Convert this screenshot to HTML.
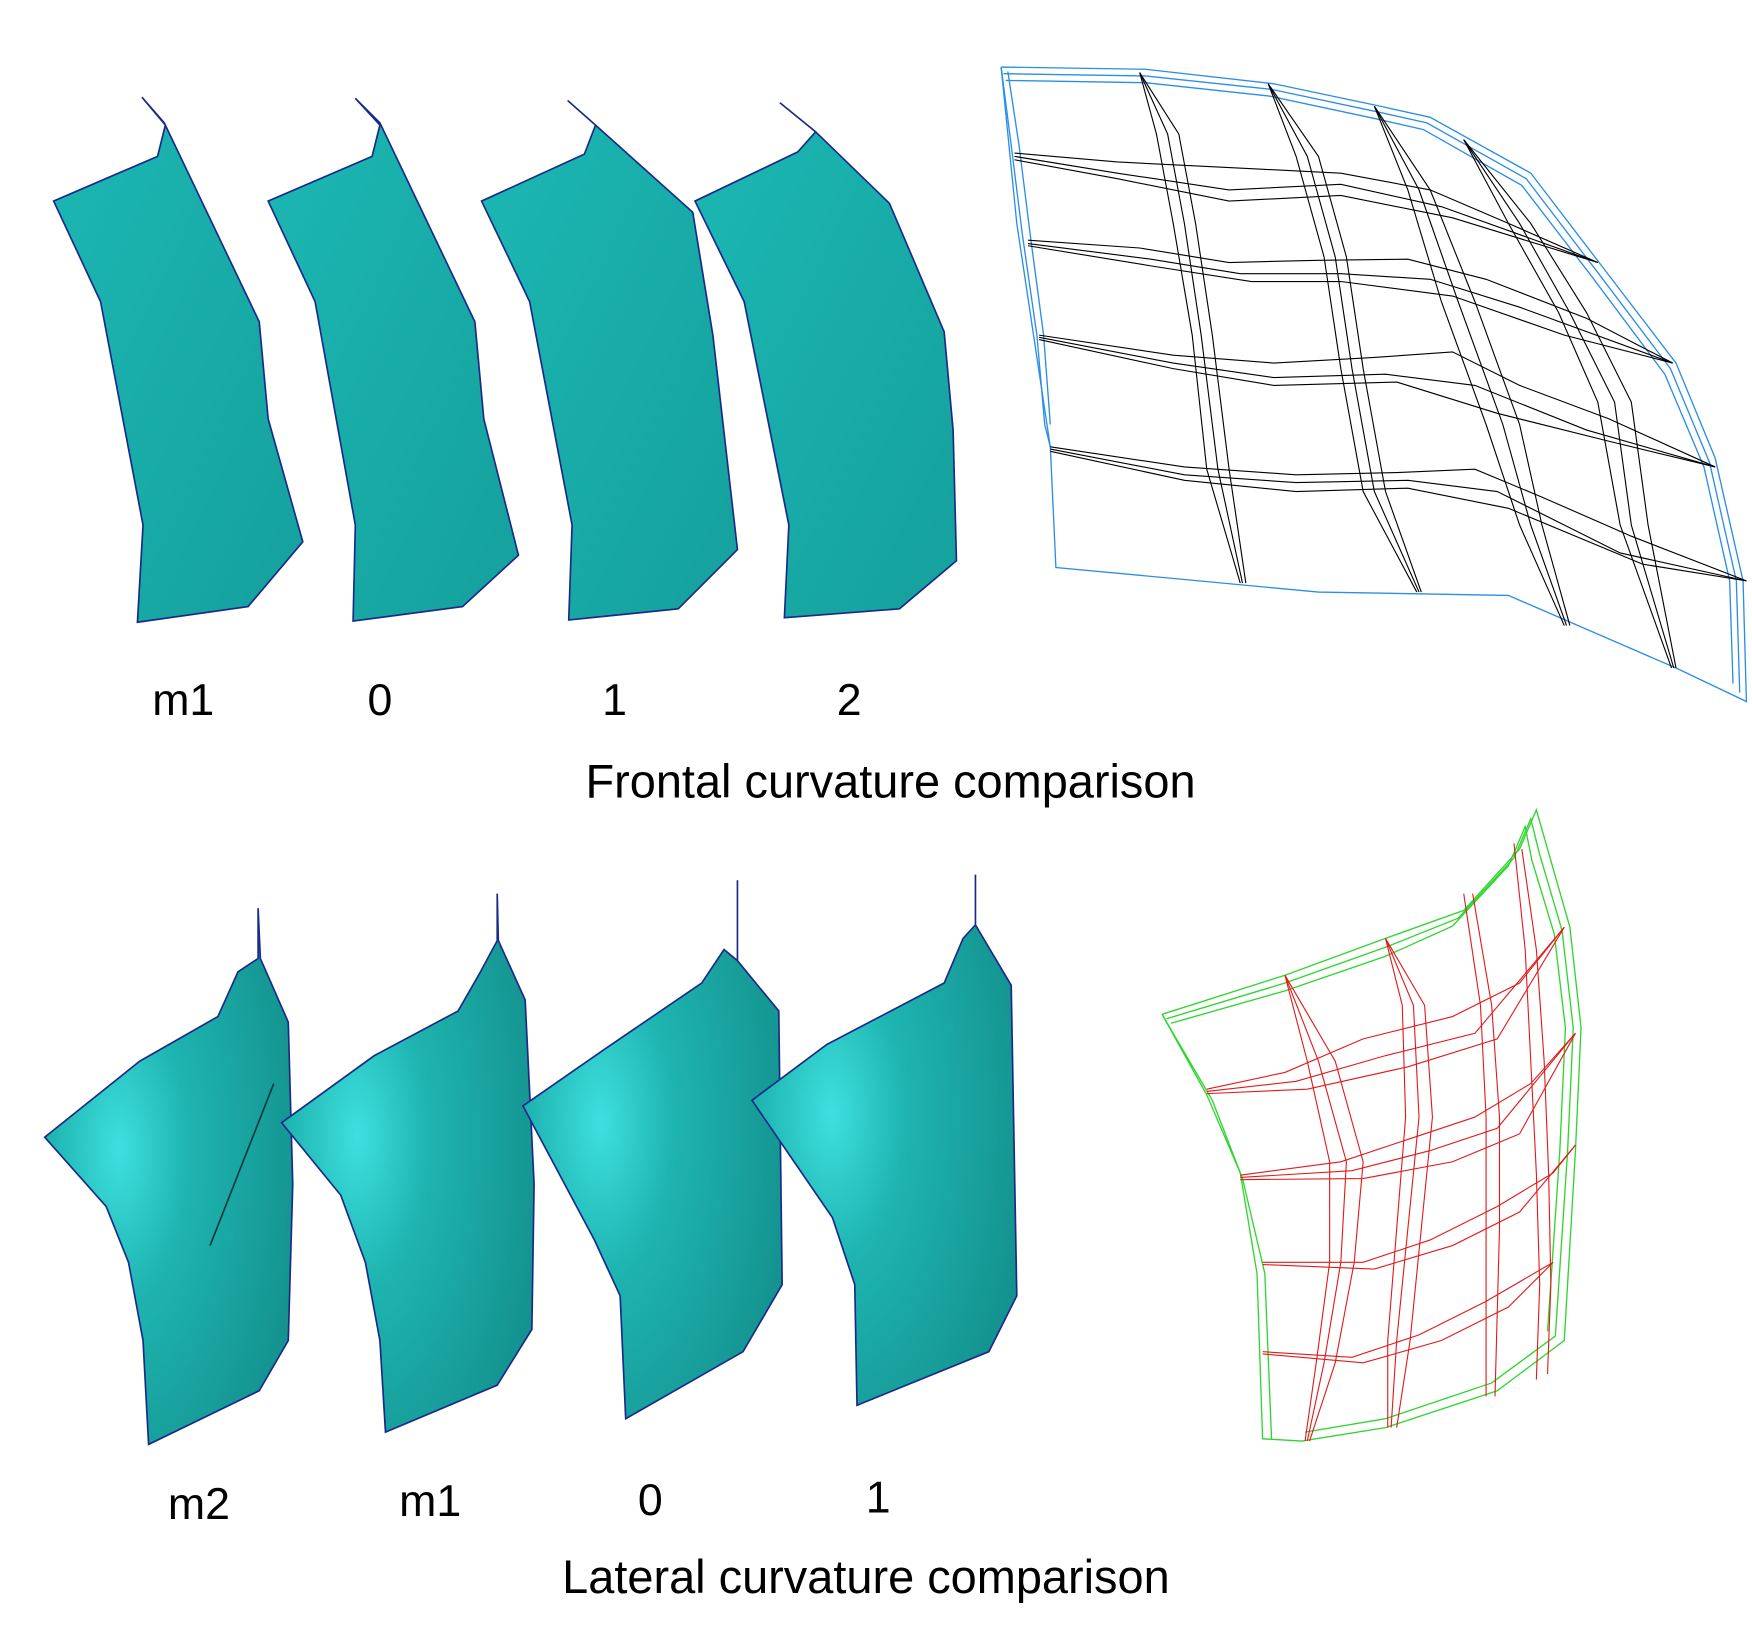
<!DOCTYPE html>
<html><head><meta charset="utf-8"><style>
html,body{margin:0;padding:0;background:#fff;}
svg{display:block;}
text{font-family:"Liberation Sans",sans-serif;fill:#000;}
</style></head><body>
<svg width="1752" height="1641" viewBox="0 0 1568 1469" preserveAspectRatio="none" xmlns="http://www.w3.org/2000/svg">
<defs>
<radialGradient id="g1" cx="0.3" cy="0.45" r="0.8">
<stop offset="0" stop-color="#3ee0e0"/><stop offset="0.35" stop-color="#1eb4b0"/><stop offset="1" stop-color="#138f8c"/>
</radialGradient>
<linearGradient id="g2" x1="0" y1="0" x2="1" y2="1">
<stop offset="0" stop-color="#1cb8b4"/><stop offset="1" stop-color="#15a09c"/>
</linearGradient>
</defs>
<g fill="url(#g2)" stroke="#1a2a8a" stroke-width="1.5">
<polygon points="127,87 147,110 232,288 240,375 271,485 222,543 123,557 128,470 90,270 48,180 141,140 148,112"/>
<polygon points="318,88 340,110 425,288 433,375 464,497 414,543 316,556 318,470 282,270 240,180 333,140 340,112"/>
<polygon points="508,90 533,112 620,190 638,300 660,492 607,545 509,555 512,470 474,270 431,180 523,138 533,112"/>
<polygon points="698,92 730,118 796,182 845,297 853,385 856,502 805,545 702,553 706,470 666,270 622,180 714,136 730,118"/>
</g>
<g fill="url(#g1)" stroke="#1a2a8a" stroke-width="1.5">
<polygon points="231,813 233,858 258,915 262,1060 258,1200 232,1245 133,1293 128,1200 115,1130 95,1080 40,1018 125,950 195,910 213,870 231,858"/>
<polygon points="445,800 446,842 470,895 478,1060 476,1190 445,1240 345,1282 340,1200 327,1130 305,1070 252,1005 335,945 410,905 430,870 445,842"/>
<polygon points="660,788 660,860 697,905 700,1150 665,1210 560,1270 555,1160 532,1110 468,990 540,940 628,880 648,850 660,860"/>
<polygon points="873,783 873,828 905,882 910,1160 885,1210 767,1258 765,1150 745,1090 673,985 740,935 845,880 862,840 873,828"/>
</g>
<line x1="245" y1="970" x2="188" y2="1115" stroke="#0a3a40" stroke-width="1.5"/>
<g fill="none" stroke="#2b8ee6" stroke-width="1.2">
<polyline points="896,60 1025,62 1140,75 1235,95 1280,105 1370,155 1435,240 1500,325 1535,410 1560,520 1563,628 1500,598 1350,533 1180,530 945,508 940,400 910,200 896,60"/>
<polyline points="898,66 1025,68 1138,80 1232,100 1277,110 1366,160 1430,244 1495,330 1530,414 1554,520 1557,620"/>
<polyline points="900,72 1025,74 1136,86 1230,106 1274,116 1362,166 1425,248 1490,335 1525,418 1548,520 1551,612"/>
<polyline points="896,60 905,130 915,210 928,300 935,380 940,400"/>
<polyline points="902,64 912,130 922,210 934,300 940,380"/>
</g>
<g fill="none" stroke="#000" stroke-width="1">
<polyline points="908,137 1000,145 1100,150 1200,155 1280,170 1350,200 1430,235"/>
<polyline points="908,140 1000,155 1100,170 1200,165 1290,185 1360,210 1430,235"/>
<polyline points="908,143 1000,160 1100,180 1200,175 1300,195 1430,235"/>
<polyline points="920,215 1020,222 1100,235 1180,233 1260,232 1330,250 1420,285 1497,325"/>
<polyline points="920,218 1030,232 1110,245 1200,245 1280,250 1360,275 1497,325"/>
<polyline points="920,220 1030,238 1120,252 1200,252 1300,265 1400,300 1497,325"/>
<polyline points="930,300 1050,318 1140,325 1230,320 1300,315 1360,345 1440,375 1535,418"/>
<polyline points="930,302 1050,325 1140,338 1240,335 1320,345 1420,385 1535,418"/>
<polyline points="930,304 1050,330 1140,345 1250,342 1340,370 1440,395 1535,418"/>
<polyline points="940,400 1060,418 1160,425 1250,423 1320,420 1380,445 1460,480 1563,520"/>
<polyline points="940,402 1060,425 1160,432 1260,430 1340,440 1450,495 1563,520"/>
<polyline points="940,404 1060,430 1160,440 1260,437 1350,455 1470,505 1563,520"/>
<polyline points="1020,65 1055,120 1070,200 1085,300 1100,420 1115,522"/>
<polyline points="1020,65 1045,120 1060,200 1075,300 1090,420 1112,522"/>
<polyline points="1020,65 1035,120 1050,200 1067,300 1080,420 1110,522"/>
<polyline points="1135,75 1180,140 1205,230 1220,330 1240,440 1272,530"/>
<polyline points="1135,75 1170,140 1195,230 1210,330 1230,440 1270,530"/>
<polyline points="1135,75 1160,140 1185,230 1200,330 1220,440 1268,530"/>
<polyline points="1230,95 1280,170 1320,270 1360,380 1380,470 1405,560"/>
<polyline points="1230,95 1270,170 1305,270 1345,380 1370,470 1402,560"/>
<polyline points="1230,95 1260,170 1290,270 1330,380 1360,470 1400,560"/>
<polyline points="1310,125 1370,200 1420,280 1460,360 1475,470 1500,598"/>
<polyline points="1310,125 1360,200 1405,280 1445,360 1460,470 1498,598"/>
<polyline points="1310,125 1350,200 1395,280 1430,360 1450,470 1496,598"/>
</g>
<g fill="none" stroke="#2fd62f" stroke-width="1.2">
<polyline points="1040,908 1150,873 1240,840 1310,815 1360,760 1375,725 1385,760 1405,830 1415,920 1410,1030 1400,1200 1340,1245 1240,1278 1165,1290 1130,1288 1125,1140 1110,1050 1080,980 1040,908"/>
<polyline points="1044,912 1150,880 1240,848 1305,822 1355,768 1370,733 1378,765 1398,833 1408,920 1403,1030 1392,1196 1335,1238 1240,1270 1168,1282"/>
<polyline points="1048,916 1150,887 1240,856 1300,829 1350,775 1365,740 1371,770 1391,836 1401,920 1396,1030 1385,1192"/>
<polyline points="1040,908 1085,985 1112,1055 1132,1140 1138,1288"/>
</g>
<g fill="none" stroke="#e31a1a" stroke-width="1">
<polyline points="1080,975 1150,960 1220,930 1300,910 1360,880 1400,830"/>
<polyline points="1080,977 1160,968 1240,945 1320,925 1400,830"/>
<polyline points="1080,979 1170,975 1260,955 1340,930 1400,830"/>
<polyline points="1110,1052 1200,1040 1260,1020 1320,1000 1370,970 1410,925"/>
<polyline points="1110,1054 1210,1048 1280,1030 1340,1010 1410,925"/>
<polyline points="1110,1056 1220,1055 1300,1040 1360,1015 1410,925"/>
<polyline points="1130,1130 1220,1130 1280,1110 1340,1080 1390,1050 1410,1025"/>
<polyline points="1130,1132 1230,1136 1300,1115 1360,1085 1410,1025"/>
<polyline points="1130,1210 1210,1215 1270,1195 1330,1165 1390,1130"/>
<polyline points="1130,1212 1220,1220 1290,1200 1350,1170 1390,1130"/>
<polyline points="1150,873 1180,950 1205,1040 1200,1130 1185,1220 1170,1290"/>
<polyline points="1150,873 1170,950 1190,1040 1190,1130 1178,1220 1168,1290"/>
<polyline points="1150,873 1195,950 1220,1040 1212,1130 1195,1220 1172,1290"/>
<polyline points="1240,840 1265,900 1270,1000 1260,1100 1250,1200 1245,1278"/>
<polyline points="1240,840 1255,900 1258,1000 1250,1100 1242,1200 1242,1278"/>
<polyline points="1240,840 1275,900 1282,1000 1272,1100 1262,1200 1250,1278"/>
<polyline points="1310,800 1325,900 1330,1000 1330,1100 1330,1250"/>
<polyline points="1318,800 1335,900 1342,1000 1342,1100 1338,1250"/>
<polyline points="1355,755 1365,850 1370,950 1375,1050 1378,1150 1375,1235"/>
<polyline points="1362,760 1375,850 1382,950 1386,1050 1388,1150 1385,1230"/>
</g>
<g font-size="40" text-anchor="middle">
<text x="164" y="640">m1</text>
<text x="340" y="640">0</text>
<text x="550" y="640">1</text>
<text x="760" y="640">2</text>
<text x="797" y="714" font-size="42">Frontal curvature comparison</text>
<text x="178" y="1360">m2</text>
<text x="385" y="1357">m1</text>
<text x="582" y="1356">0</text>
<text x="786" y="1354">1</text>
<text x="775" y="1426" font-size="42">Lateral curvature comparison</text>
</g>
</svg>
</body></html>
